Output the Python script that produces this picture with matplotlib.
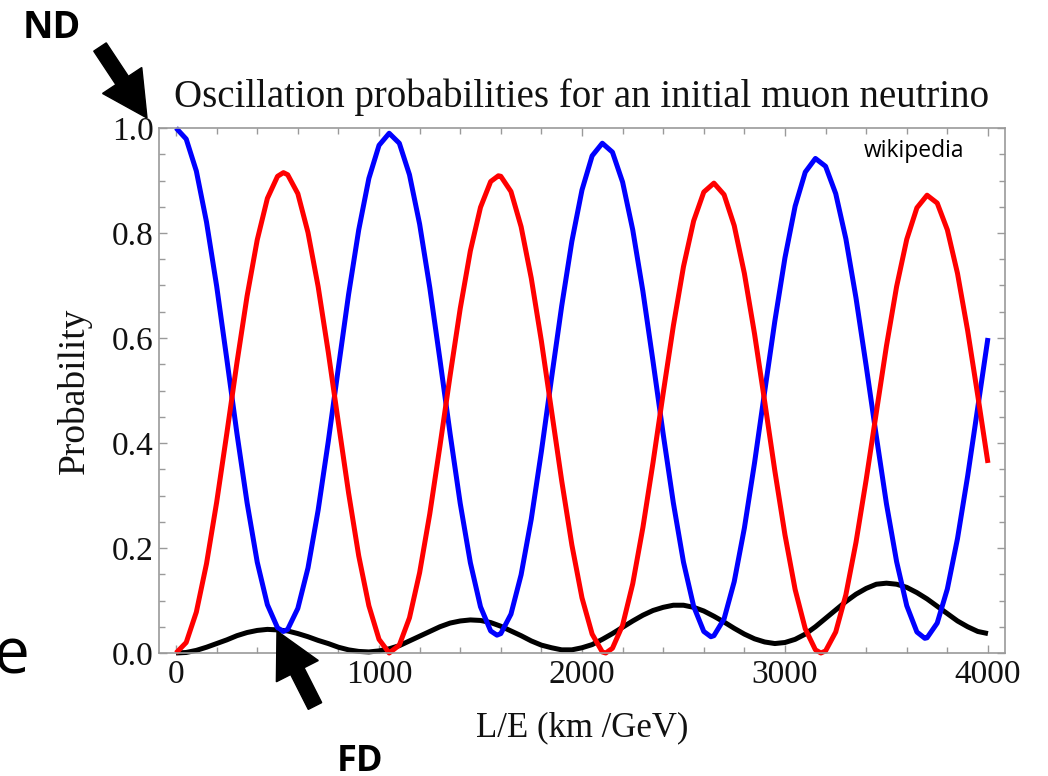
import numpy as np
import matplotlib
matplotlib.use('Agg')
import matplotlib.pyplot as plt
from matplotlib.patches import FancyArrow

# L/E grid (km/GeV)
le = np.arange(0, 4001, 50)

# nu_mu -> nu_e
p_e = [0.000, 0.001, 0.005, 0.011, 0.018, 0.025, 0.033, 0.039, 0.043, 0.045,
       0.044, 0.042, 0.037, 0.031, 0.024, 0.018, 0.011, 0.006, 0.003, 0.002,
       0.004, 0.008, 0.014, 0.023, 0.032, 0.041, 0.050, 0.057, 0.061, 0.063,
       0.062, 0.058, 0.051, 0.042, 0.033, 0.023, 0.015, 0.010, 0.006, 0.006,
       0.010, 0.016, 0.026, 0.037, 0.049, 0.061, 0.072, 0.081, 0.087, 0.091,
       0.091, 0.087, 0.080, 0.070, 0.059, 0.047, 0.036, 0.027, 0.021, 0.018,
       0.020, 0.026, 0.036, 0.050, 0.066, 0.082, 0.098, 0.112, 0.123, 0.131,
       0.133, 0.131, 0.125, 0.115, 0.103, 0.089, 0.075, 0.061, 0.050, 0.041,
       0.037]

# nu_mu survival
p_mu = [1.000, 0.979, 0.918, 0.821, 0.699, 0.560, 0.418, 0.286, 0.173, 0.092,
        0.048, 0.045, 0.085, 0.162, 0.272, 0.403, 0.544, 0.683, 0.806, 0.904,
        0.967, 0.990, 0.971, 0.911, 0.817, 0.696, 0.559, 0.418, 0.285, 0.172,
        0.088, 0.042, 0.037, 0.074, 0.149, 0.255, 0.384, 0.524, 0.661, 0.784,
        0.882, 0.947, 0.971, 0.954, 0.897, 0.806, 0.689, 0.555, 0.417, 0.286,
        0.173, 0.089, 0.041, 0.033, 0.065, 0.136, 0.238, 0.362, 0.498, 0.632,
        0.753, 0.851, 0.916, 0.942, 0.927, 0.875, 0.789, 0.676, 0.547, 0.413,
        0.284, 0.174, 0.090, 0.040, 0.029, 0.057, 0.122, 0.218, 0.337, 0.468,
        0.600]
# dips that fall between grid points
mu_ext_x = [528, 1581, 2635, 3689]
mu_ext_y = [0.041, 0.034, 0.031, 0.028]

# nu_mu -> nu_tau
p_tau = [0.000, 0.020, 0.078, 0.170, 0.287, 0.418, 0.553, 0.680, 0.787, 0.866,
         0.908, 0.911, 0.875, 0.801, 0.698, 0.573, 0.438, 0.305, 0.185, 0.090,
         0.026, 0.000, 0.015, 0.067, 0.153, 0.265, 0.394, 0.528, 0.656, 0.766,
         0.849, 0.898, 0.908, 0.879, 0.812, 0.714, 0.594, 0.461, 0.328, 0.206,
         0.105, 0.036, 0.002, 0.009, 0.053, 0.132, 0.239, 0.363, 0.495, 0.623,
         0.736, 0.823, 0.878, 0.895, 0.873, 0.814, 0.723, 0.608, 0.479, 0.347,
         0.225, 0.121, 0.046, 0.006, 0.004, 0.040, 0.111, 0.211, 0.330, 0.458,
         0.585, 0.698, 0.788, 0.848, 0.872, 0.857, 0.806, 0.723, 0.614, 0.490,
         0.362]
tau_ext_x = [529, 1588, 2117, 3177]
tau_ext_y = [0.915, 0.909, 0.000, 0.000]


def merged(x, y, ex, ey):
    xx = np.concatenate([x, ex])
    yy = np.concatenate([y, ey])
    o = np.argsort(xx)
    return xx[o], yy[o]


W, H = 1048, 776
serif = 'Liberation Serif'
sans = 'Open Sans'
frame = '#9a9a9a'

fig = plt.figure(figsize=(W / 100, H / 100), dpi=100)
ax = fig.add_axes([159 / W, (H - 653) / H, (1005 - 159) / W, (653 - 128) / H])

kw = dict(lw=3.6, clip_on=False, solid_joinstyle='round', solid_capstyle='butt')
ax.plot(le, p_e, color='black', **kw)
ax.plot(*merged(le, p_mu, mu_ext_x, mu_ext_y), color='#0000ff', **kw)
ax.plot(*merged(le, p_tau, tau_ext_x, tau_ext_y), color='#ff0000', **kw)

ax.set_xlim(-84, 4084)
ax.set_ylim(0, 1)
ax.set_xticks(np.arange(0, 4001, 1000))
ax.set_xticks(np.arange(0, 4001, 200), minor=True)
ax.set_yticks(np.arange(0, 1.01, 0.2))
ax.set_yticks(np.arange(0, 1.01, 0.05), minor=True)
ax.set_yticklabels(['0.0', '0.2', '0.4', '0.6', '0.8', '1.0'])

for s in ax.spines.values():
    s.set_color(frame)
    s.set_linewidth(1.2)
ax.tick_params(which='both', direction='in', top=True, right=True, color=frame, width=1.0)
ax.tick_params(which='major', length=6)
ax.tick_params(which='minor', length=4)
ax.tick_params(axis='y', which='major', pad=4, labelsize=24, labelcolor='#111111')
ax.tick_params(axis='x', which='major', pad=5, labelsize=24, labelcolor='#111111')
for lab in ax.get_xticklabels() + ax.get_yticklabels():
    lab.set_fontfamily(serif)

ax.set_xlabel('L/E (km /GeV)', fontsize=25, family=serif, color='#111111')
ax.xaxis.set_label_coords(0.5, -(711 - 653) / 525)
ax.set_ylabel('Probability', fontsize=27, family=serif, color='#111111')
ax.yaxis.set_label_coords(-(159 - 92) / 846, 0.5)


# title and slide annotations, placed in pixel positions
def px(x, y):
    return x / W, 1 - y / H


fig.text(*px(582, 107), 'Oscillation probabilities for an initial muon neutrino',
         fontsize=28, family=serif, ha='center', va='baseline', color='#111111')
fig.text(*px(864, 157), 'wikipedia', fontsize=16.5, family=sans, va='baseline')
fig.text(*px(23, 38), 'ND', fontsize=27, family=sans, weight='bold', va='baseline')
fig.text(*px(337, 771), 'FD', fontsize=26, family=sans, weight='bold', va='baseline')
fig.text(*px(-6.5, 673), 'e', fontsize=46, family=sans, va='baseline')


def arrow(x0, y0, x1, y1):
    a = FancyArrow(x0 / 100, (H - y0) / 100, (x1 - x0) / 100, -(y1 - y0) / 100,
                   width=0.15, head_width=0.47, head_length=0.45,
                   length_includes_head=True, color='black',
                   transform=fig.dpi_scale_trans)
    fig.add_artist(a)


arrow(100, 47, 147, 118)
arrow(315, 706, 277, 631)

fig.savefig('out.png', dpi=100)
